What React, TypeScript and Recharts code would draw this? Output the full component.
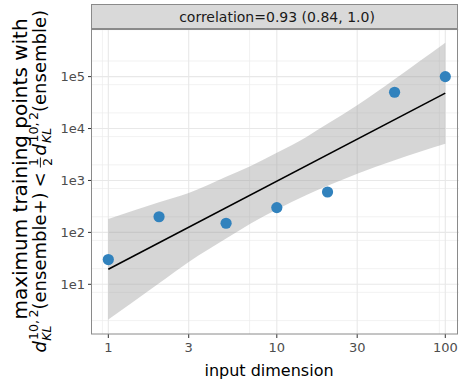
import React from "react";
import { ComposedChart, Area, Line, Scatter, XAxis, YAxis, CartesianGrid } from "recharts";

// one point per input dimension
const dims = [1, 2, 5, 10, 20, 50, 100];
const maxPoints = [30, 200, 150, 300, 600, 50000, 100000];

// fitted line, end points only
const fitDims = [1, 100];
const fitValues = [19.5, 48000];

// confidence band around the fit
const bandDims = [1, 2, 3, 5, 7, 10, 15, 20, 30, 50, 70, 100];
const bandLower = [2.1, 10.5, 27, 76, 148, 275, 525, 790, 1350, 2450, 3550, 5100];
const bandUpper = [182, 380, 575, 1180, 1900, 3400, 6900, 12300, 28000, 89000, 195000, 450000];

const xTicks = [1, 3, 10, 30, 100];
const xTickLabels = ["1", "3", "10", "30", "100"];
const yTicks = [10, 100, 1000, 10000, 100000];
const yTickLabels = ["1e1", "1e2", "1e3", "1e4", "1e5"];

const stripLabel = "correlation=0.93 (0.84, 1.0)";
const xTitle = "input dimension";
const yTitleTop = "maximum training points with";

const X_DOMAIN: [number, number] = [0.8, 120.6];
const Y_DOMAIN: [number, number] = [1.104, 826000];
const FONT = "DejaVu Sans";

// grid lines (plotnine style minor breaks)
const xBreaks = [0.3, 1, 3, 10, 30, 100, 300];
const xMinor: number[] = [];
for (let i = 0; i < xBreaks.length - 1; i++) {
  for (let j = 1; j < 9; j++) xMinor.push(xBreaks[i] + ((xBreaks[i + 1] - xBreaks[i]) * j) / 9);
}
const yMinor: number[] = [];
for (let k = 0; k <= 5; k++) for (let j = 2; j <= 9; j++) yMinor.push(j * 10 ** k);
const inX = (v: number) => v >= X_DOMAIN[0] && v <= X_DOMAIN[1];
const inY = (v: number) => v >= Y_DOMAIN[0] && v <= Y_DOMAIN[1];

const bandRows = bandDims.map((x, i) => {
  const f = fitDims.indexOf(x);
  return { x, band: [bandLower[i], bandUpper[i]], fit: f >= 0 ? fitValues[f] : undefined };
});
const pointRows = dims.map((x, i) => ({ x, y: maxPoints[i] }));

const Dot = (p: any) => <circle cx={p.cx} cy={p.cy} r={5.6} fill="#3182bd" />;

function YTitle() {
  const s = -171;
  const big = 18;
  const small = 12.6;
  return (
    <g transform="translate(46, 181.5) rotate(-90)" fontFamily={FONT} fill="#000">
      <text x={12.5} y={-19} fontSize={20} textAnchor="middle">
        {yTitleTop}
      </text>
      <text x={s} y={0} fontSize={big} fontStyle="italic">d</text>
      <text x={s + 11.8} y={4.5} fontSize={small} fontStyle="italic">KL</text>
      <text x={s + 12.5} y={-8.5} fontSize={small}>10,{"\u2009"}2</text>
      <text x={s + 43} y={0} fontSize={big}>(ensemble+)</text>
      <text x={s + 165} y={0} fontSize={big}>&lt;</text>
      <text x={s + 186.5} y={-8} fontSize={small}>1</text>
      <line x1={s + 185} x2={s + 195} y1={-5.6} y2={-5.6} stroke="#000" strokeWidth={0.9} />
      <text x={s + 186.5} y={5.8} fontSize={small}>2</text>
      <text x={s + 197} y={0} fontSize={big} fontStyle="italic">d</text>
      <text x={s + 209.4} y={4.5} fontSize={small} fontStyle="italic">KL</text>
      <text x={s + 210} y={-8.5} fontSize={small}>10,{"\u2009"}2</text>
      <text x={s + 240.5} y={0} fontSize={big}>(ensemble)</text>
    </g>
  );
}

export default function App() {
  const tick = { fontSize: 13, fill: "#4d4d4d", fontFamily: FONT };
  return (
    <div style={{ position: "absolute", left: 0, top: 0, width: 459, height: 379, background: "#fff" }}>
      <ComposedChart width={459} height={379} data={bandRows} margin={{ top: 29, right: 0, bottom: 0, left: 0 }}>
        <CartesianGrid
          verticalValues={xMinor.filter(inX)}
          horizontalValues={yMinor.filter(inY)}
          stroke="#ededed"
          strokeWidth={0.7}
        />
        <CartesianGrid verticalValues={xTicks} horizontalValues={yTicks} stroke="#e8e8e8" strokeWidth={1.1} />
        <XAxis
          dataKey="x"
          type="number"
          scale="log"
          domain={X_DOMAIN}
          allowDataOverflow
          ticks={xTicks}
          tickFormatter={(v: number) => xTickLabels[xTicks.indexOf(v)] ?? String(v)}
          height={45}
          axisLine={false}
          tickSize={4}
          tickMargin={5}
          tickLine={{ stroke: "#333" }}
          tick={tick}
        />
        <YAxis
          type="number"
          scale="log"
          domain={Y_DOMAIN}
          allowDataOverflow
          ticks={yTicks}
          tickFormatter={(v: number) => yTickLabels[yTicks.indexOf(v)] ?? String(v)}
          width={92}
          axisLine={false}
          tickSize={4}
          tickMargin={3}
          tickLine={{ stroke: "#333" }}
          tick={tick}
        />
        <Area dataKey="band" type="monotone" stroke="none" fill="#999999" fillOpacity={0.4} isAnimationActive={false} />
        <Line dataKey="fit" connectNulls stroke="#000" strokeWidth={1.6} dot={false} isAnimationActive={false} />
        <Scatter data={pointRows} dataKey="y" shape={Dot} isAnimationActive={false} />
      </ComposedChart>
      <svg width={459} height={379} style={{ position: "absolute", left: 0, top: 0, pointerEvents: "none" }}>
        <rect x={91.5} y={29.5} width={366} height={304.5} fill="none" stroke="#8a8a8a" strokeWidth={1} />
        <rect x={91.5} y={4.5} width={366} height={24} fill="#d9d9d9" stroke="#8a8a8a" strokeWidth={1} />
        <text x={277} y={21.5} textAnchor="middle" fontSize={14} fontFamily={FONT} fill="#1a1a1a">
          {stripLabel}
        </text>
        <text x={269} y={376} textAnchor="middle" fontSize={16} fontFamily={FONT} fill="#000">
          {xTitle}
        </text>
        <YTitle />
      </svg>
    </div>
  );
}
